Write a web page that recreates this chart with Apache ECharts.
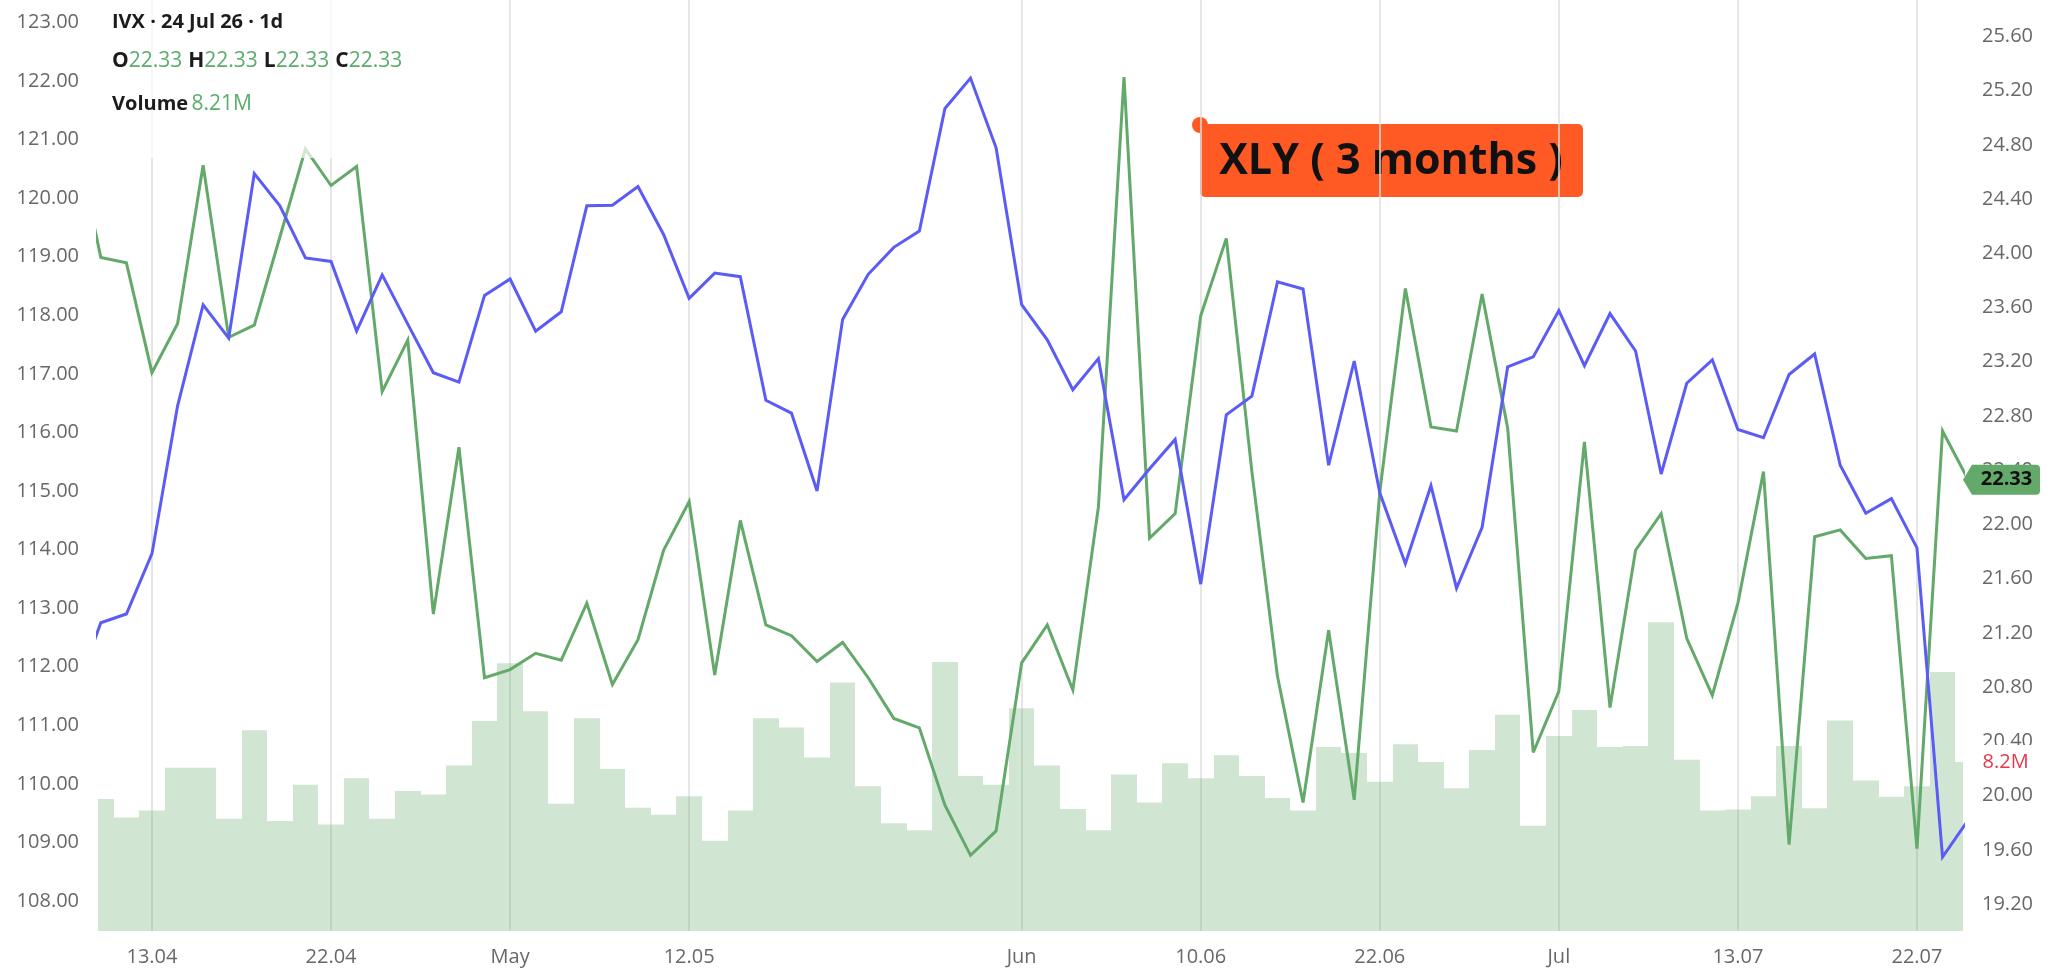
<!DOCTYPE html>
<html>
<head>
<meta charset="utf-8">
<title>XLY ( 3 months )</title>
<script src="https://cdn.jsdelivr.net/npm/echarts@6/dist/echarts.min.js"></script>
<style>
  html, body { margin: 0; padding: 0; background: #fff; }
  #chart { width: 2048px; height: 979px; }
</style>
</head>
<body>
<div id="chart"></div>
<script>
// trading days shown on the chart (first one is just off the left edge)
const days = [
  '08.04', '09.04', '10.04', '13.04', '14.04', '15.04', '16.04', '17.04', '20.04', '21.04', '22.04', '23.04', '24.04', '27.04', '28.04', '29.04', '30.04',
  '01.05', '04.05', '05.05', '06.05', '07.05', '08.05', '11.05', '12.05', '13.05', '14.05', '15.05', '18.05', '19.05', '20.05', '21.05', '22.05', '26.05', '27.05', '28.05', '29.05',
  '01.06', '02.06', '03.06', '04.06', '05.06', '08.06', '09.06', '10.06', '11.06', '12.06', '15.06', '16.06', '17.06', '18.06', '22.06', '23.06', '24.06', '25.06', '26.06', '29.06', '30.06',
  '01.07', '02.07', '06.07', '07.07', '08.07', '09.07', '10.07', '13.07', '14.07', '15.07', '16.07', '17.07', '20.07', '21.07', '22.07', '23.07', '24.07'
];
const tickDays = ['13.04', '22.04', '01.05', '12.05', '01.06', '10.06', '22.06', '01.07', '13.07', '22.07'];
const tickLabels = ['13.04', '22.04', 'May', '12.05', 'Jun', '10.06', '22.06', 'Jul', '13.07', '22.07'];

// XLY close (blue, left axis)
const xlyClose = [
  111.54, 112.75, 112.90, 113.93, 116.45, 118.18, 117.61, 120.42, 119.87, 118.98, 118.92, 117.73, 118.69, 117.85, 117.02, 116.86,
  118.34, 118.62, 117.73, 118.06, 119.87, 119.88, 120.20, 119.38, 118.29, 118.72, 118.66, 116.55, 116.33, 115.00, 117.93,
  118.70, 119.16, 119.44, 121.53, 122.05, 120.86, 118.18, 117.58, 116.73, 117.26, 114.85, 115.38, 115.88, 113.41, 116.30,
  116.62, 118.57, 118.45, 115.44, 117.22, 114.97, 113.76, 115.09, 113.34, 114.38, 117.12, 117.29, 118.08, 117.14, 118.03,
  117.39, 115.29, 116.84, 117.24, 116.05, 115.91, 116.99, 117.34, 115.44, 114.62, 114.87, 114.03, 108.75, 109.38
];
// IVX (green, right axis)
const ivxClose = [
  24.86, 23.97, 23.93, 23.12, 23.48, 24.65, 23.38, 23.47, 24.12, 24.77, 24.50, 24.64, 22.98, 23.36, 21.34, 22.57,
  20.87, 20.93, 21.05, 21.00, 21.42, 20.82, 21.15, 21.81, 22.17, 20.89, 22.03, 21.26, 21.18, 20.99, 21.13,
  20.87, 20.57, 20.50, 19.93, 19.56, 19.74, 20.98, 21.26, 20.78, 22.13, 25.30, 21.90, 22.08, 23.54, 24.11,
  22.39, 20.88, 19.95, 21.22, 19.97, 22.24, 23.74, 22.72, 22.69, 23.70, 22.71, 20.32, 20.77, 22.61, 20.65,
  21.81, 22.08, 21.16, 20.74, 21.42, 22.39, 19.64, 21.91, 21.96, 21.75, 21.77, 19.61, 22.69, 22.33
];
// volume, millions
const volumeM = [
  6.00, 6.41, 5.51, 5.85, 7.93, 7.93, 5.45, 9.75, 5.34, 7.11, 5.17, 7.42, 5.45, 6.80, 6.63, 8.04,
  10.20, 13.01, 10.68, 6.18, 10.34, 7.87, 5.99, 5.65, 6.55, 4.38, 5.85, 10.34, 9.89, 8.43, 12.08,
  7.03, 5.23, 4.89, 13.07, 7.53, 7.11, 10.82, 8.04, 5.93, 4.89, 7.61, 6.24, 8.15, 7.42, 8.54,
  7.53, 6.46, 5.85, 8.94, 8.65, 7.25, 9.08, 8.21, 6.94, 8.80, 10.51, 5.11, 9.47, 10.74, 8.94,
  8.99, 15.00, 8.32, 5.85, 5.90, 6.55, 8.99, 5.96, 10.23, 7.31, 6.52, 7.03, 12.59, 8.21
];

const last = days.length - 1;
const xMin = 0.89, xMax = 73.8;
const gridLeft = 98, gridRight = 85;

// pixel scales
const leftPxPerUnit = 58.57, leftY108 = 901;     // XLY axis
const rightPxPerUnit = 135.6, rightY22 = 524.5;  // IVX axis
const xlyMax = 108 + leftY108 / leftPxPerUnit;
const xlyBottom = 979 - (leftY108 + leftPxPerUnit);          // y of 107
const ivxMax = 22 + rightY22 / rightPxPerUnit;
const ivxBottom = 979 - (rightY22 + 3.2 * rightPxPerUnit);   // y of 18.8

const axisFont = { fontFamily: 'Open Sans', fontSize: 20, fontWeight: 500, color: '#686868' };
const green = '#62a96a';
const blue = '#5b5bf6';
const volColor = 'rgba(102,170,110,0.3)';

const tickIdx = tickDays.map(d => days.indexOf(d));

function xAxisFor(g) {
  const ax = { type: 'value', gridIndex: g, min: xMin, max: xMax, show: g === 0 };
  if (g === 0) {
    ax.axisLine = { show: false };
    ax.axisTick = { show: false, customValues: tickIdx };
    ax.axisLabel = Object.assign({}, axisFont, {
      fontWeight: 'normal',
      margin: 16,
      customValues: tickIdx,
      formatter: v => tickLabels[tickIdx.indexOf(Math.round(v))] || ''
    });
    ax.splitLine = { show: true, lineStyle: { color: '#dedede', width: 1.5 } };
  }
  return ax;
}

const ivxLast = ivxClose[last];
const volLast = volumeM[last];

const chart = echarts.init(document.getElementById('chart'));
chart.setOption({
  animation: false,
  backgroundColor: '#fff',
  grid: [
    { left: gridLeft, right: gridRight, top: 0, bottom: 48 },
    { left: gridLeft, right: gridRight, top: 0, bottom: xlyBottom },
    { left: gridLeft, right: gridRight, top: 0, bottom: ivxBottom }
  ],
  xAxis: [xAxisFor(0), xAxisFor(1), xAxisFor(2)],
  yAxis: [
    { type: 'value', gridIndex: 0, min: 0, max: 45.24, show: false },
    {
      type: 'value', gridIndex: 1, position: 'left', min: 107, max: xlyMax, interval: 1,
      axisLine: { show: false }, axisTick: { show: false }, splitLine: { show: false },
      axisLabel: Object.assign({}, axisFont, {
        margin: 19, showMinLabel: false, showMaxLabel: false,
        formatter: v => v.toFixed(2)
      })
    },
    {
      type: 'value', gridIndex: 2, position: 'right', min: 18.8, max: ivxMax, interval: 0.4,
      axisLine: { show: false }, axisTick: { show: false }, splitLine: { show: false },
      axisLabel: Object.assign({}, axisFont, {
        margin: 19, showMinLabel: false, showMaxLabel: false,
        formatter: v => v.toFixed(2)
      })
    }
  ],
  series: [
    {
      name: 'Volume',
      type: 'custom',
      xAxisIndex: 0,
      yAxisIndex: 0,
      encode: { x: 0, y: 1 },
      data: volumeM.map((v, i) => [i, v]),
      renderItem: (params, api) => {
        const i = api.value(0);
        const a = api.coord([i - 0.5, api.value(1)]);
        const b = api.coord([i + 0.5, 0]);
        const cs = params.coordSys;
        const x0 = Math.round(a[0]), x1 = Math.round(b[0]);
        const rect = echarts.graphic.clipRectByRect(
          { x: x0, y: a[1], width: x1 - x0, height: b[1] - a[1] },
          { x: cs.x, y: cs.y, width: cs.width, height: cs.height }
        );
        return rect && { type: 'rect', shape: rect, style: { fill: volColor } };
      },
      markPoint: {
        symbol: 'rect',
        symbolSize: 1,
        itemStyle: { color: 'rgba(0,0,0,0)' },
        label: {
          show: true, position: 'right', distance: 15,
          fontFamily: 'Open Sans', fontSize: 20, lineHeight: 22, color: '#e5384e',
          backgroundColor: '#fff', padding: [6, 4, 6, 4],
          formatter: p => p.value.toFixed(1) + 'M'
        },
        data: [{ coord: [xMax, volLast], value: volLast }]
      }
    },
    {
      name: 'IVX',
      type: 'line',
      xAxisIndex: 2,
      yAxisIndex: 2,
      showSymbol: false,
      clip: true,
      lineStyle: { color: green, width: 3, join: 'miter', miterLimit: 4 },
      data: ivxClose.map((v, i) => [i, v]),
      markPoint: {
        symbol: 'path://M0,15 L9,0 L73,0 Q77,0 77,4 L77,26 Q77,30 73,30 L9,30 Z',
        symbolSize: [77, 30],
        symbolKeepAspect: false,
        symbolOffset: [38.5, 0],
        itemStyle: { color: green },
        label: {
          show: true, position: 'inside', offset: [5, 0],
          color: '#111', fontFamily: 'Open Sans', fontSize: 20, fontWeight: 'bold',
          formatter: p => p.value.toFixed(2)
        },
        data: [{ coord: [xMax, ivxLast], value: ivxLast }]
      }
    },
    {
      name: 'XLY',
      type: 'line',
      xAxisIndex: 1,
      yAxisIndex: 1,
      showSymbol: false,
      clip: true,
      lineStyle: { color: blue, width: 3, join: 'miter', miterLimit: 4 },
      data: xlyClose.map((v, i) => [i, v])
    }
  ],
  graphic: [
    // faded panel behind the header
    { type: 'rect', z: 5, shape: { x: 98, y: 0, width: 320, height: 158 }, style: { fill: 'rgba(255,255,255,0.7)' } },
    {
      type: 'text', z: 6, x: 112, y: 22,
      style: { text: 'IVX · 24 Jul 26 · 1d', font: 'bold 20px "Open Sans"', fill: '#1c1c1c', verticalAlign: 'middle' }
    },
    {
      type: 'text', z: 6, x: 112, y: 61,
      style: {
        text: ['O', 'H', 'L', 'C'].map(k => '{k|' + k + '}{v|' + ivxLast.toFixed(2) + '}').join('{s| }'),
        verticalAlign: 'middle',
        rich: {
          k: { fill: '#1c1c1c', fontFamily: 'Open Sans', fontSize: 21, fontWeight: 'bold' },
          v: { fill: '#5aad6b', fontFamily: 'Open Sans', fontSize: 21, fontWeight: 500 },
          s: { fontSize: 21, width: 6 }
        }
      }
    },
    {
      type: 'text', z: 6, x: 112, y: 104,
      style: {
        text: '{k|Volume} {v|' + volLast.toFixed(2) + 'M}',
        verticalAlign: 'middle',
        rich: {
          k: { fill: '#1c1c1c', fontFamily: 'Open Sans', fontSize: 20, fontWeight: 'bold' },
          v: { fill: '#5aad6b', fontFamily: 'Open Sans', fontSize: 21, fontWeight: 500 }
        }
      }
    },
    // XLY ( 3 months ) tag
    {
      type: 'group', z: 7,
      children: [
        { type: 'rect', shape: { x: 1200, y: 124, width: 383, height: 73, r: 5 }, style: { fill: '#ff5a23' } },
        { type: 'circle', shape: { cx: 1200, cy: 125, r: 8 }, style: { fill: '#ff5a23' } },
        {
          type: 'text', x: 1391, y: 162,
          style: { text: 'XLY ( 3 months )', font: 'bold 43px "Open Sans"', fill: '#111', align: 'center', verticalAlign: 'middle' }
        }
      ]
    }
  ]
});
window.onresize = chart.resize;
</script>
</body>
</html>
